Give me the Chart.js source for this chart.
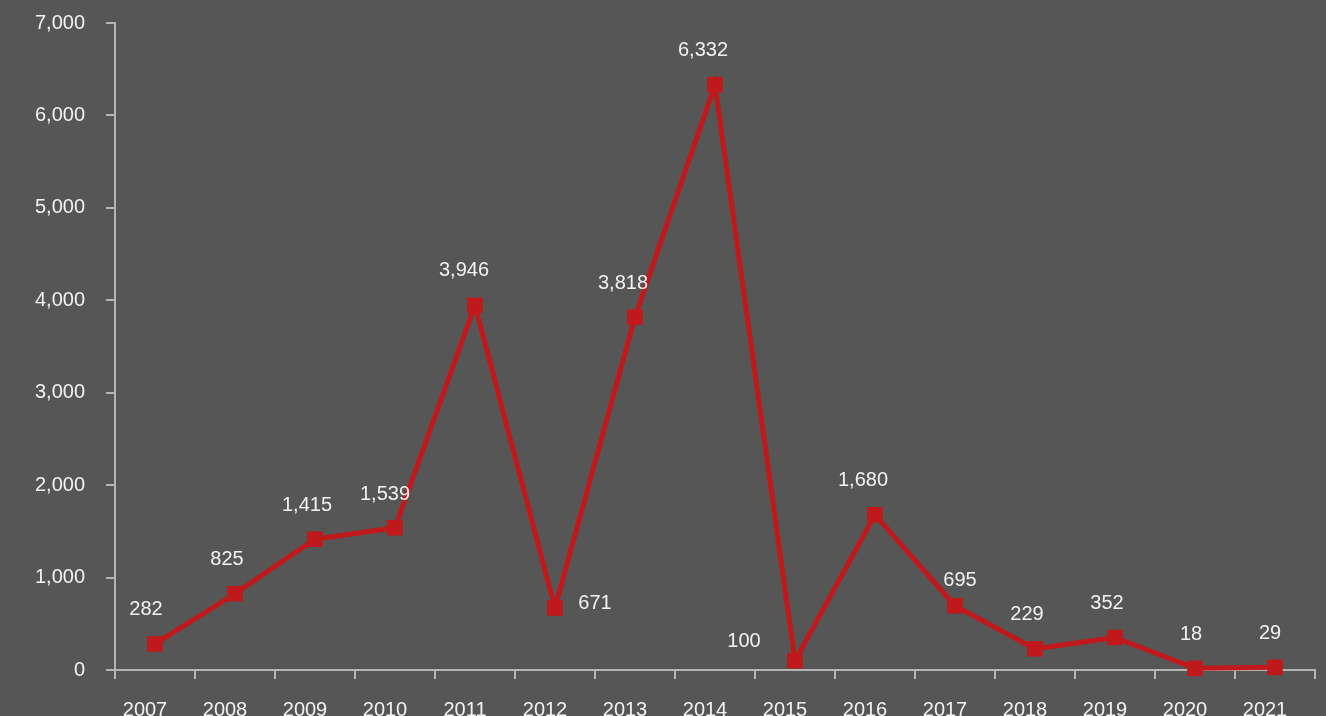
<!DOCTYPE html>
<html>
<head>
<meta charset="utf-8">
<script src="https://cdn.jsdelivr.net/npm/chart.js@4/dist/chart.umd.min.js"></script>
<style>
  html, body { margin: 0; padding: 0; background: #565656; }
  #wrap { width: 1326px; height: 716px; }
</style>
</head>
<body>
<div id="wrap"><canvas id="yearChart"></canvas></div>
<script>
var years = ['2007', '2008', '2009', '2010', '2011', '2012', '2013', '2014', '2015', '2016', '2017', '2018', '2019', '2020', '2021'];
var counts = [282, 825, 1415, 1539, 3946, 671, 3818, 6332, 100, 1680, 695, 229, 352, 18, 29];
var yTicks = [0, 1000, 2000, 3000, 4000, 5000, 6000, 7000];

// where each value label sits relative to its point (dx, dy in px)
var labelShift = [
  [-9, -34], [-8, -34], [-8, -34], [-10, -33], [-11, -35],
  [40, -4], [-12, -34], [-12, -34], [-51, -19], [-12, -34],
  [5, -25], [-8, -34], [-8, -34], [-4, -34], [-5, -34]
];

var fontFamily = '"Liberation Sans", Arial, sans-serif';
var textColor = '#f2f2f2';
var axisColor = '#b4b4b4';
var lineRed = '#c0181b';

var valueLabels = {
  id: 'valueLabels',
  afterDatasetsDraw: function(chart) {
    var ctx = chart.ctx;
    var meta = chart.getDatasetMeta(0);
    ctx.save();
    ctx.font = '20px ' + fontFamily;
    ctx.fillStyle = textColor;
    ctx.textAlign = 'center';
    ctx.textBaseline = 'middle';
    meta.data.forEach(function(pt, i) {
      var txt = counts[i].toLocaleString('en-US');
      ctx.fillText(txt, pt.x + labelShift[i][0], pt.y + labelShift[i][1]);
    });
    ctx.restore();
  }
};

var chart = new Chart(document.getElementById('yearChart'), {
  type: 'line',
  data: {
    labels: years,
    datasets: [{
      data: counts,
      borderColor: lineRed,
      backgroundColor: lineRed,
      borderWidth: 5,
      pointStyle: 'rect',
      pointRadius: 11,
      pointBorderWidth: 0,
      pointBackgroundColor: lineRed,
      tension: 0,
      clip: false
    }]
  },
  options: {
    responsive: true,
    maintainAspectRatio: false,
    animation: false,
    layout: { padding: { top: 23, right: 10, left: 0, bottom: 0 } },
    plugins: {
      legend: { display: false },
      tooltip: { enabled: false }
    },
    scales: {
      x: {
        offset: true,
        grid: {
          offset: true,
          drawOnChartArea: false,
          drawTicks: true,
          tickLength: 9,
          color: axisColor,
          lineWidth: 2
        },
        border: { color: axisColor, width: 2 },
        ticks: {
          color: textColor,
          padding: 19,
          labelOffset: -10,
          maxRotation: 0,
          font: { family: fontFamily, size: 20 }
        },
        afterFit: function(scale) { scale.height = 46; }
      },
      y: {
        min: 0,
        max: 7000,
        afterBuildTicks: function(scale) {
          scale.ticks = yTicks.map(function(v) { return { value: v }; });
        },
        grid: {
          drawOnChartArea: false,
          drawTicks: true,
          tickLength: 9,
          color: axisColor,
          lineWidth: 2
        },
        border: { color: axisColor, width: 2 },
        ticks: {
          color: textColor,
          padding: 21,
          font: { family: fontFamily, size: 20 },
          callback: function(v) { return v.toLocaleString('en-US'); }
        },
        afterFit: function(scale) {
          scale.width = 115;
          // the label padding would otherwise push the plot down
          scale.paddingTop = 0;
          scale.paddingBottom = 0;
        }
      }
    }
  },
  plugins: [valueLabels]
});
</script>
</body>
</html>
